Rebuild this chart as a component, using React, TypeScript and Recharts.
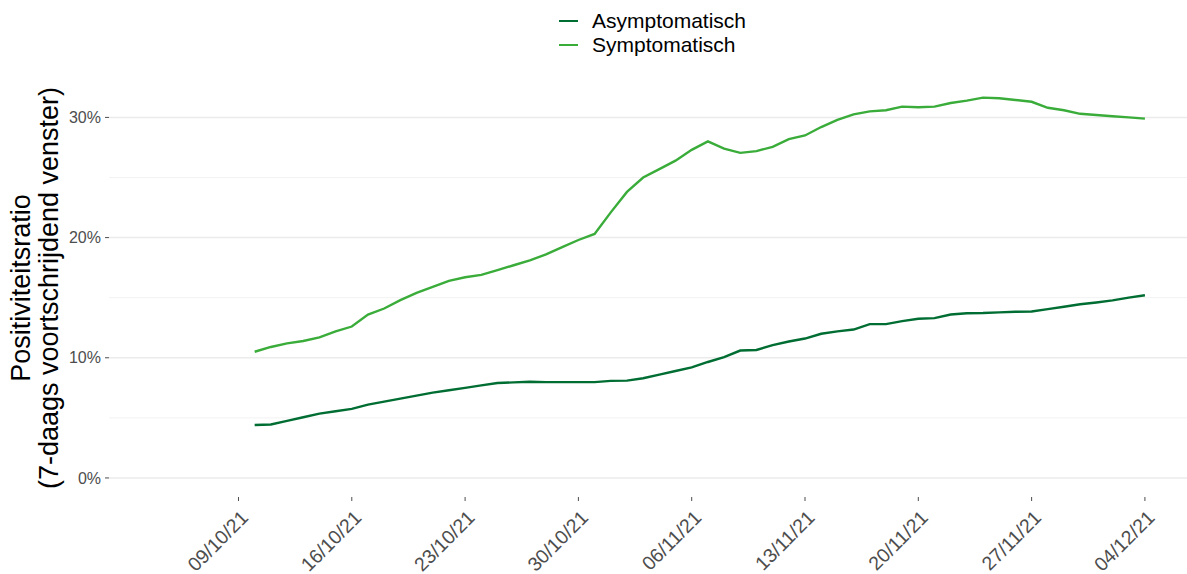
import React from "react";
import {
  LineChart,
  Line,
  XAxis,
  YAxis,
  ReferenceLine,
  Legend,
} from "recharts";

const FONT = '"Liberation Sans", Arial, sans-serif';

// days shown (dd/mm/yy)
const dates = [
  "10/10/21", "11/10/21", "12/10/21", "13/10/21", "14/10/21", "15/10/21", "16/10/21",
  "17/10/21", "18/10/21", "19/10/21", "20/10/21", "21/10/21", "22/10/21", "23/10/21",
  "24/10/21", "25/10/21", "26/10/21", "27/10/21", "28/10/21", "29/10/21", "30/10/21",
  "31/10/21", "01/11/21", "02/11/21", "03/11/21", "04/11/21", "05/11/21", "06/11/21",
  "07/11/21", "08/11/21", "09/11/21", "10/11/21", "11/11/21", "12/11/21", "13/11/21",
  "14/11/21", "15/11/21", "16/11/21", "17/11/21", "18/11/21", "19/11/21", "20/11/21",
  "21/11/21", "22/11/21", "23/11/21", "24/11/21", "25/11/21", "26/11/21", "27/11/21",
  "28/11/21", "29/11/21", "30/11/21", "01/12/21", "02/12/21", "03/12/21", "04/12/21",
];

// positivity ratio, %
const asymptomatisch = [
  4.4, 4.45, 4.75, 5.05, 5.35, 5.55, 5.75, 6.1, 6.35, 6.6, 6.85, 7.1, 7.3, 7.5,
  7.7, 7.9, 7.95, 8.0, 7.97, 7.97, 7.97, 7.97, 8.08, 8.1, 8.3, 8.6, 8.9, 9.2,
  9.65, 10.05, 10.6, 10.65, 11.05, 11.35, 11.6, 12.0, 12.2, 12.35, 12.8, 12.8, 13.05, 13.25,
  13.3, 13.6, 13.7, 13.72, 13.78, 13.83, 13.85, 14.05, 14.25, 14.45, 14.6, 14.78, 15.0, 15.2,
];

const symptomatisch = [
  10.5, 10.9, 11.2, 11.4, 11.7, 12.2, 12.6, 13.6, 14.1, 14.8, 15.4, 15.9, 16.4, 16.7,
  16.9, 17.3, 17.7, 18.1, 18.6, 19.2, 19.8, 20.3, 22.1, 23.8, 25.0, 25.7, 26.4, 27.3,
  28.0, 27.4, 27.05, 27.2, 27.55, 28.2, 28.5, 29.2, 29.8, 30.25, 30.5, 30.6, 30.9, 30.85,
  30.9, 31.2, 31.4, 31.65, 31.6, 31.45, 31.3, 30.8, 30.6, 30.3, 30.2, 30.1, 30.0, 29.9,
];

const xTickLabels = [
  "09/10/21", "16/10/21", "23/10/21", "30/10/21", "06/11/21",
  "13/11/21", "20/11/21", "27/11/21", "04/12/21",
];

const yMajor = [0, 10, 20, 30];
const yMinor = [5, 15, 25];

const series = [
  { key: "Asymptomatisch", color: "#006d32" },
  { key: "Symptomatisch", color: "#3aac3a" },
];

// days since 09/10/21
const ORIGIN = Date.UTC(2021, 9, 9);
function toDay(s: string) {
  const [d, m, y] = s.split("/").map(Number);
  return Math.round((Date.UTC(2000 + y, m - 1, d) - ORIGIN) / 86400000);
}

const chartData = dates.map((d, i) => ({
  day: toDay(d),
  Asymptomatisch: asymptomatisch[i],
  Symptomatisch: symptomatisch[i],
}));

const xTicks = xTickLabels.map(toDay);
const labelByDay: Record<number, string> = {};
xTickLabels.forEach((l) => (labelByDay[toDay(l)] = l));

const DateTick = (props: any) => {
  const { x, y, payload } = props;
  const ax = x + 1;
  const ay = y + 6;
  return (
    <text
      x={ax}
      y={ay}
      dy="0.72em"
      transform={`rotate(-45, ${ax}, ${ay})`}
      textAnchor="end"
      fill="#4d4d4d"
      fontSize={19.5}
      fontFamily={FONT}
    >
      {labelByDay[payload.value]}
    </text>
  );
};

const YTitle = () => (
  <text
    transform="translate(30, 288) rotate(-90)"
    textAnchor="middle"
    fill="#000"
    fontSize={27}
    fontFamily={FONT}
  >
    <tspan x={0} dy={0}>Positiviteitsratio</tspan>
    <tspan x={0} dy={28}>(7-daags voortschrijdend venster)</tspan>
  </text>
);

const LegendBox = () => (
  <div style={{ fontFamily: FONT, fontSize: 21, color: "#000", lineHeight: "24px" }}>
    {series.map((s) => (
      <div key={s.key} style={{ display: "flex", alignItems: "center", whiteSpace: "nowrap" }}>
        <span
          style={{
            display: "inline-block",
            width: 19,
            height: 2.5,
            background: s.color,
            marginRight: 14,
          }}
        />
        {s.key}
      </div>
    ))}
  </div>
);

export default function App() {
  return (
    <div style={{ position: "absolute", left: 0, top: 0, background: "#fff" }}>
      <LineChart
        width={1187}
        height={574}
        data={chartData}
        margin={{ top: 78, right: 0, bottom: 0, left: 0 }}
      >
        {yMinor.map((v) => (
          <ReferenceLine key={"mi" + v} y={v} stroke="#f2f2f2" strokeWidth={1} />
        ))}
        {yMajor.map((v) => (
          <ReferenceLine key={"ma" + v} y={v} stroke="#ebebeb" strokeWidth={1.5} />
        ))}
        <XAxis
          dataKey="day"
          type="number"
          domain={[-8, 58.6]}
          ticks={xTicks}
          allowDataOverflow
          height={77}
          axisLine={false}
          tickLine={{ stroke: "#4d4d4d" }}
          tickSize={4}
          tick={<DateTick />}
          interval={0}
        />
        <YAxis
          type="number"
          domain={[-1.585, 33.28]}
          ticks={yMajor}
          allowDataOverflow
          width={109}
          axisLine={false}
          tickLine={{ stroke: "#4d4d4d" }}
          tickSize={4}
          tickMargin={4}
          tickFormatter={(v: number) => `${v}%`}
          tick={{ fill: "#4d4d4d", fontSize: 16, fontFamily: FONT }}
          label={<YTitle />}
        />
        <Legend
          verticalAlign="middle"
          align="center"
          layout="horizontal"
          content={<LegendBox />}
          wrapperStyle={{ top: 9, left: 559, width: 220, height: 50 }}
        />
        {series.map((s) => (
          <Line
            key={s.key}
            type="linear"
            dataKey={s.key}
            stroke={s.color}
            strokeWidth={2.4}
            dot={false}
            activeDot={false}
            isAnimationActive={false}
          />
        ))}
      </LineChart>
    </div>
  );
}
